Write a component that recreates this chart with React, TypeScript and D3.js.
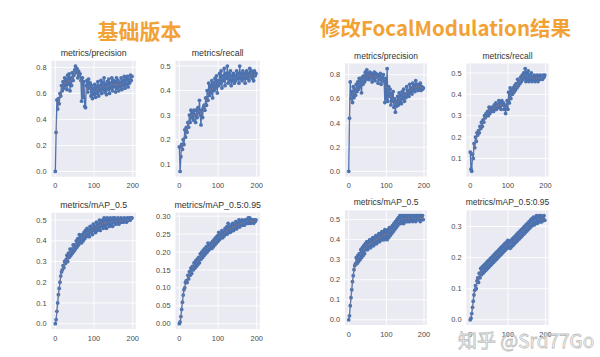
import React from "react";
import * as d3 from "d3";

// ---------- data ----------
const EPOCHS = d3.range(0, 200, 2);
const X_TICKS = [0, 100, 200];

const BASE_PRECISION = [
  0.0, 0.3, 0.55, 0.48, 0.56, 0.52, 0.6, 0.58, 0.66, 0.62,
  0.69, 0.64, 0.72, 0.66, 0.71, 0.63, 0.74, 0.67, 0.75, 0.62,
  0.72, 0.66, 0.76, 0.7, 0.74, 0.78, 0.81, 0.76, 0.79, 0.72,
  0.77, 0.73, 0.75, 0.7, 0.54, 0.72, 0.57, 0.69, 0.5, 0.49,
  0.66, 0.7, 0.61, 0.71, 0.64, 0.68, 0.58, 0.66, 0.56, 0.64,
  0.59, 0.67, 0.57, 0.65, 0.6, 0.69, 0.58, 0.66, 0.62, 0.7,
  0.6, 0.68, 0.63, 0.72, 0.61, 0.67, 0.59, 0.69, 0.63, 0.71,
  0.6, 0.68, 0.64, 0.72, 0.62, 0.7, 0.65, 0.69, 0.61, 0.72,
  0.64, 0.7, 0.62, 0.68, 0.65, 0.72, 0.63, 0.7, 0.66, 0.73,
  0.64, 0.71, 0.67, 0.73, 0.65, 0.71, 0.68, 0.74, 0.7, 0.73,
];

const BASE_RECALL = [
  0.17, 0.07, 0.13, 0.18, 0.16, 0.2, 0.18, 0.24, 0.21, 0.25,
  0.23, 0.27, 0.25, 0.3, 0.27, 0.32, 0.29, 0.31, 0.28, 0.32,
  0.3, 0.27, 0.32, 0.29, 0.33, 0.31, 0.36, 0.3, 0.26, 0.32,
  0.29, 0.33, 0.34, 0.32, 0.37, 0.34, 0.4, 0.36, 0.43, 0.38,
  0.42, 0.39, 0.44, 0.37, 0.43, 0.4, 0.45, 0.41, 0.46, 0.39,
  0.44, 0.42, 0.47, 0.43, 0.48, 0.41, 0.46, 0.44, 0.49, 0.42,
  0.47, 0.45, 0.5, 0.43, 0.47, 0.44, 0.48, 0.42, 0.46, 0.44,
  0.47, 0.43, 0.46, 0.44, 0.48, 0.45, 0.47, 0.43, 0.5, 0.45,
  0.47, 0.44, 0.48, 0.45, 0.47, 0.43, 0.46, 0.48, 0.45, 0.47,
  0.44, 0.49, 0.46, 0.48, 0.45, 0.47, 0.44, 0.48, 0.46, 0.47,
];

const BASE_MAP50 = [
  0.0, 0.02, 0.06, 0.1, 0.14, 0.17, 0.2, 0.23, 0.25, 0.26,
  0.28, 0.27, 0.3, 0.29, 0.31, 0.33, 0.3, 0.34, 0.32, 0.36,
  0.33, 0.36, 0.34, 0.38, 0.35, 0.38, 0.36, 0.4, 0.37, 0.41,
  0.38, 0.43, 0.39, 0.42, 0.39, 0.43, 0.4, 0.44, 0.41, 0.45,
  0.42, 0.46, 0.43, 0.45, 0.42, 0.47, 0.44, 0.46, 0.43, 0.48,
  0.45, 0.47, 0.44, 0.49, 0.45, 0.48, 0.46, 0.5, 0.45, 0.49,
  0.47, 0.5, 0.46, 0.51, 0.47, 0.5, 0.46, 0.51, 0.48, 0.5,
  0.47, 0.51, 0.48, 0.5, 0.47, 0.51, 0.49, 0.51, 0.48, 0.5,
  0.49, 0.51, 0.48, 0.5, 0.49, 0.51, 0.49, 0.5, 0.49, 0.51,
  0.5, 0.5, 0.49, 0.51, 0.5, 0.5, 0.51, 0.5, 0.51, 0.51,
];

const BASE_MAP5095 = [
  0.0, 0.005, 0.02, 0.04, 0.06, 0.08, 0.095, 0.1, 0.115, 0.12,
  0.115, 0.135, 0.125, 0.145, 0.135, 0.155, 0.14, 0.16, 0.15, 0.17,
  0.155, 0.175, 0.16, 0.18, 0.165, 0.185, 0.17, 0.195, 0.18, 0.2,
  0.185, 0.205, 0.19, 0.21, 0.195, 0.215, 0.2, 0.225, 0.205, 0.22,
  0.21, 0.225, 0.21, 0.23, 0.215, 0.235, 0.22, 0.24, 0.225, 0.245,
  0.23, 0.255, 0.235, 0.25, 0.24, 0.26, 0.24, 0.255, 0.245, 0.265,
  0.25, 0.27, 0.25, 0.28, 0.255, 0.27, 0.255, 0.275, 0.26, 0.28,
  0.26, 0.275, 0.265, 0.285, 0.265, 0.28, 0.27, 0.29, 0.27, 0.285,
  0.275, 0.29, 0.275, 0.285, 0.275, 0.29, 0.28, 0.29, 0.28, 0.295,
  0.28, 0.295, 0.28, 0.29, 0.285, 0.29, 0.28, 0.29, 0.285, 0.29,
];

const FOCAL_PRECISION = [
  0.0, 0.44, 0.74, 0.6, 0.66, 0.57, 0.7, 0.61, 0.68, 0.63,
  0.72, 0.66, 0.74, 0.68, 0.77, 0.7, 0.75, 0.65, 0.78, 0.72,
  0.79, 0.74, 0.82, 0.76, 0.84, 0.78, 0.81, 0.76, 0.82, 0.78,
  0.81, 0.74, 0.8, 0.77, 0.82, 0.75, 0.81, 0.78, 0.8, 0.73,
  0.79, 0.76, 0.81, 0.72, 0.78, 0.75, 0.8, 0.74, 0.57, 0.77,
  0.6, 0.85, 0.58, 0.7, 0.62, 0.68, 0.55, 0.64, 0.58, 0.66,
  0.53, 0.6, 0.49, 0.58, 0.54, 0.62, 0.55, 0.65, 0.57, 0.63,
  0.56, 0.66, 0.6, 0.68, 0.58, 0.64, 0.61, 0.7, 0.63, 0.67,
  0.62, 0.72, 0.65, 0.69, 0.64, 0.73, 0.67, 0.71, 0.66, 0.75,
  0.69, 0.72, 0.67, 0.71, 0.68, 0.73, 0.67, 0.7, 0.68, 0.69,
];

const FOCAL_RECALL = [
  0.13, 0.05, 0.04, 0.12, 0.1, 0.17, 0.15, 0.2, 0.18, 0.22,
  0.21, 0.23, 0.22, 0.25, 0.24, 0.27, 0.25, 0.28, 0.27, 0.3,
  0.29, 0.31, 0.3, 0.32, 0.3, 0.34, 0.31, 0.33, 0.32, 0.34,
  0.33, 0.32, 0.35, 0.33, 0.36, 0.33, 0.35, 0.34, 0.37, 0.34,
  0.36, 0.33, 0.37, 0.35, 0.36, 0.33, 0.35, 0.31, 0.34, 0.37,
  0.33, 0.41, 0.36, 0.43, 0.38, 0.42, 0.4, 0.43, 0.41, 0.44,
  0.42, 0.45, 0.43, 0.47, 0.44, 0.46, 0.45, 0.48, 0.46, 0.49,
  0.47, 0.5, 0.48, 0.52, 0.46, 0.5, 0.47, 0.51, 0.46, 0.49,
  0.47, 0.5, 0.46, 0.48, 0.47, 0.49, 0.46, 0.48, 0.47, 0.49,
  0.46, 0.48, 0.47, 0.49, 0.47, 0.48, 0.47, 0.49, 0.48, 0.49,
];

const FOCAL_MAP50 = [
  0.0, 0.02, 0.07, 0.11, 0.15, 0.19, 0.22, 0.25, 0.27, 0.28,
  0.31, 0.28, 0.32, 0.29, 0.33, 0.3, 0.35, 0.31, 0.36, 0.32,
  0.37, 0.33, 0.38, 0.35, 0.39, 0.35, 0.39, 0.36, 0.4, 0.36,
  0.4, 0.37, 0.41, 0.37, 0.41, 0.38, 0.42, 0.38, 0.42, 0.39,
  0.43, 0.39, 0.43, 0.4, 0.44, 0.4, 0.44, 0.4, 0.45, 0.41,
  0.44, 0.4, 0.45, 0.41, 0.46, 0.42, 0.46, 0.43, 0.47, 0.44,
  0.48, 0.45, 0.49, 0.46, 0.5, 0.47, 0.51, 0.48, 0.52, 0.48,
  0.52, 0.49, 0.52, 0.48, 0.52, 0.49, 0.52, 0.49, 0.52, 0.49,
  0.52, 0.49, 0.52, 0.5, 0.52, 0.49, 0.52, 0.5, 0.52, 0.49,
  0.52, 0.5, 0.52, 0.5, 0.52, 0.49, 0.52, 0.5, 0.52, 0.5,
];

const FOCAL_MAP5095 = [
  0.0, 0.005, 0.02, 0.04, 0.06, 0.08, 0.095, 0.11, 0.1, 0.125,
  0.135, 0.12, 0.15, 0.135, 0.165, 0.145, 0.17, 0.15, 0.175, 0.155,
  0.18, 0.16, 0.185, 0.165, 0.19, 0.17, 0.195, 0.175, 0.2, 0.18,
  0.205, 0.185, 0.21, 0.19, 0.215, 0.195, 0.22, 0.2, 0.225, 0.205,
  0.23, 0.21, 0.235, 0.215, 0.24, 0.22, 0.245, 0.225, 0.25, 0.23,
  0.255, 0.235, 0.25, 0.23, 0.255, 0.235, 0.26, 0.24, 0.265, 0.245,
  0.27, 0.25, 0.275, 0.255, 0.28, 0.26, 0.285, 0.265, 0.29, 0.27,
  0.295, 0.275, 0.3, 0.28, 0.305, 0.285, 0.31, 0.29, 0.315, 0.295,
  0.32, 0.3, 0.325, 0.305, 0.33, 0.305, 0.325, 0.31, 0.335, 0.31,
  0.33, 0.315, 0.335, 0.315, 0.335, 0.315, 0.33, 0.32, 0.335, 0.32,
];

const TICKS_P = [0, 0.2, 0.4, 0.6, 0.8];
const TICKS_R = [0.1, 0.2, 0.3, 0.4, 0.5];
const TICKS_M50 = [0, 0.1, 0.2, 0.3, 0.4, 0.5];
const TICKS_BASE_M95 = [0, 0.05, 0.1, 0.15, 0.2, 0.25, 0.3];
const TICKS_FOCAL_M95 = [0, 0.1, 0.2, 0.3];

const TITLE_LEFT = "基础版本";
const TITLE_RIGHT = "修改FocalModulation结果";
const WATERMARK = "知乎 @Srd77Go";

// ---------- layout ----------
const BLUE = "#4C72B0";
const ORANGE = "#DD8452";
const BG = "#EAEAF2";
const FONT = "'Liberation Sans', Arial, sans-serif";
const CJK = "'Noto Sans CJK SC', sans-serif";

type Rect = { x0: number; x1: number; y0: number; y1: number };

const L1 = { x0: 51.5, x1: 135.8 };
const L2 = { x0: 175.5, x1: 259.8 };
const R1 = { x0: 345, x1: 427 };
const R2 = { x0: 466.5, x1: 548.5 };
const LT = { y0: 60.8, y1: 176.7 };
const LB = { y0: 212.7, y1: 329 };
const RT = { y0: 63.5, y1: 176.5 };
const RB = { y0: 210.4, y1: 325 };

type PanelDef = {
  title: string;
  values: number[];
  yTicks: number[];
  fmt: string;
  rect: Rect;
  titleSize: number;
};

const PANELS: PanelDef[] = [
  { title: "metrics/precision", values: BASE_PRECISION, yTicks: TICKS_P, fmt: ".1f", rect: { ...L1, ...LT }, titleSize: 8.8 },
  { title: "metrics/recall", values: BASE_RECALL, yTicks: TICKS_R, fmt: ".1f", rect: { ...L2, ...LT }, titleSize: 8.8 },
  { title: "metrics/mAP_0.5", values: BASE_MAP50, yTicks: TICKS_M50, fmt: ".1f", rect: { ...L1, ...LB }, titleSize: 8.8 },
  { title: "metrics/mAP_0.5:0.95", values: BASE_MAP5095, yTicks: TICKS_BASE_M95, fmt: ".2f", rect: { ...L2, ...LB }, titleSize: 8.8 },
  { title: "metrics/precision", values: FOCAL_PRECISION, yTicks: TICKS_P, fmt: ".1f", rect: { ...R1, ...RT }, titleSize: 8.5 },
  { title: "metrics/recall", values: FOCAL_RECALL, yTicks: TICKS_R, fmt: ".1f", rect: { ...R2, ...RT }, titleSize: 8.5 },
  { title: "metrics/mAP_0.5", values: FOCAL_MAP50, yTicks: TICKS_M50, fmt: ".1f", rect: { ...R1, ...RB }, titleSize: 8.5 },
  { title: "metrics/mAP_0.5:0.95", values: FOCAL_MAP5095, yTicks: TICKS_FOCAL_M95, fmt: ".1f", rect: { ...R2, ...RB }, titleSize: 8.5 },
];

function gaussSmooth(v: number[], sigma: number): number[] {
  const r = Math.ceil(4 * sigma);
  const w = d3.range(-r, r + 1).map((k) => Math.exp((-0.5 * k * k) / (sigma * sigma)));
  const ws = d3.sum(w);
  const n = v.length;
  return v.map((_, i) => {
    let s = 0;
    w.forEach((wk, j) => {
      let idx = i + j - r;
      if (idx < 0) idx = -idx - 1;
      if (idx >= n) idx = 2 * n - idx - 1;
      s += wk * v[idx];
    });
    return s / ws;
  });
}

function withMargin(ext: [number, number]): [number, number] {
  const m = (ext[1] - ext[0]) * 0.05;
  return [ext[0] - m, ext[1] + m];
}

const Panel: React.FC<{ p: PanelDef }> = ({ p }) => {
  const { rect } = p;
  const xExt = d3.extent(EPOCHS) as [number, number];
  const yExt = d3.extent(p.values) as [number, number];
  const x = d3.scaleLinear().domain(withMargin(xExt)).range([rect.x0, rect.x1]);
  const y = d3.scaleLinear().domain(withMargin(yExt)).range([rect.y1, rect.y0]);
  const fmt = d3.format(p.fmt);
  const pts = p.values.map((v, i) => [EPOCHS[i], v] as [number, number]);
  const line = d3.line<[number, number]>().x((d) => x(d[0])).y((d) => y(d[1]));
  const smooth = gaussSmooth(p.values, 1.5).map((v, i) => [EPOCHS[i], v] as [number, number]);
  const [yd0, yd1] = y.domain();
  const yTicks = p.yTicks.filter((t) => t >= yd0 && t <= yd1);
  return (
    <g>
      <rect x={rect.x0} y={rect.y0} width={rect.x1 - rect.x0} height={rect.y1 - rect.y0} fill={BG} />
      {yTicks.map((t) => (
        <line key={"gy" + t} x1={rect.x0} x2={rect.x1} y1={y(t)} y2={y(t)} stroke="#fff" strokeWidth={0.9} />
      ))}
      {X_TICKS.map((t) => (
        <line key={"gx" + t} x1={x(t)} x2={x(t)} y1={rect.y0} y2={rect.y1} stroke="#fff" strokeWidth={0.9} />
      ))}
      <path d={line(pts) || ""} fill="none" stroke={BLUE} strokeWidth={1.3} strokeLinejoin="round" />
      {pts.map((d, i) => (
        <circle key={i} cx={x(d[0])} cy={y(d[1])} r={1.9} fill={BLUE} />
      ))}
      <path d={line(smooth) || ""} fill="none" stroke={ORANGE} strokeWidth={0.8} strokeDasharray="0.8,1.6" opacity={0.85} />
      {yTicks.map((t) => (
        <text key={"ty" + t} x={rect.x0 - 5} y={y(t)} dy="0.35em" textAnchor="end" fontSize={7.4} fill="#4a4a4a" fontFamily={FONT}>
          {fmt(t)}
        </text>
      ))}
      {X_TICKS.map((t) => (
        <text key={"tx" + t} x={x(t)} y={rect.y1 + 11.5} textAnchor="middle" fontSize={7.4} fill="#4a4a4a" fontFamily={FONT}>
          {t}
        </text>
      ))}
      <text x={(rect.x0 + rect.x1) / 2} y={rect.y0 - 5} textAnchor="middle" fontSize={p.titleSize} fill="#333" fontFamily={FONT}>
        {p.title}
      </text>
    </g>
  );
};

export default function App() {
  return (
    <svg width={600} height={357} style={{ position: "absolute", left: 0, top: 0, display: "block" }}>
      <rect width={600} height={357} fill="#fff" />
      <text x={139.5} y={39} textAnchor="middle" fontSize={21} fontWeight={700} fill="#F2A235" fontFamily={CJK}>
        {TITLE_LEFT}
      </text>
      <text x={445.5} y={35.5} textAnchor="middle" fontSize={20.5} fontWeight={700} fill="#F2A235" fontFamily={CJK}>
        {TITLE_RIGHT}
      </text>
      {PANELS.map((p, i) => (
        <Panel key={i} p={p} />
      ))}
      <text x={458} y={348} fontSize={19} fill="#fff" stroke="#b8b8b8" strokeWidth={0.8} fontFamily={CJK} opacity={0.9}>
        {WATERMARK}
      </text>
    </svg>
  );
}
